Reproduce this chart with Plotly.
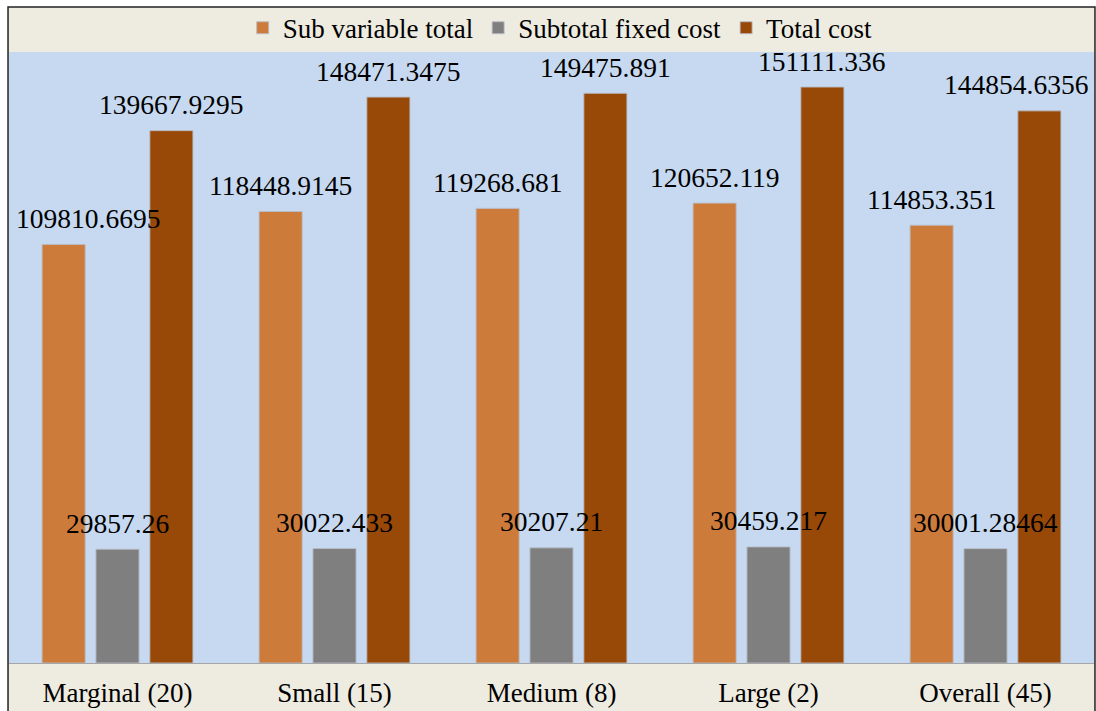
import plotly.graph_objects as go

categories = ["Marginal (20)", "Small (15)", "Medium (8)", "Large (2)", "Overall (45)"]
sub_variable_total = [109810.6695, 118448.9145, 119268.681, 120652.119, 114853.351]
subtotal_fixed_cost = [29857.26, 30022.433, 30207.21, 30459.217, 30001.28464]
total_cost = [139667.9295, 148471.3475, 149475.891, 151111.336, 144854.6356]
label_text_var = ["109810.6695", "118448.9145", "119268.681", "120652.119", "114853.351"]
label_text_fix = ["29857.26", "30022.433", "30207.21", "30459.217", "30001.28464"]
label_text_tot = ["139667.9295", "148471.3475", "149475.891", "151111.336", "144854.6356"]

series = [
    ("Sub variable total", sub_variable_total, label_text_var, "#CD7B3A"),
    ("Subtotal fixed cost", subtotal_fixed_cost, label_text_fix, "#7F7F7F"),
    ("Total cost", total_cost, label_text_tot, "#984807"),
]

FONT = "Liberation Serif"
BARGAP = 0.255
BARGROUPGAP = 0.2
# extra horizontal nudges of specific labels (series index, category index) -> px
nudges = {(0, 0): 24, (2, 4): -23}

fig = go.Figure()
for name, vals, _, color in series:
    fig.add_trace(go.Bar(
        name=name, x=categories, y=vals,
        marker=dict(color=color, line=dict(color="rgba(185,190,200,0.9)", width=1)),
    ))

slot = (1 - BARGAP) / len(series)
annotations = []
for si, (name, vals, texts, color) in enumerate(series):
    off = (si - (len(series) - 1) / 2) * slot
    for ci, (v, t) in enumerate(zip(vals, texts)):
        annotations.append(dict(
            x=ci + off, y=v, xref="x", yref="y", text=t, showarrow=False,
            yshift=26, xshift=nudges.get((si, ci), 0), yanchor="middle", xanchor="center",
            font=dict(family=FONT, size=27.5, color="#000000"),
        ))

shapes = [
    dict(type="rect", xref="paper", yref="paper", x0=-0.0009, x1=1.0009, y0=-0.09, y1=1.0737,
         fillcolor="#EEEBE0", line=dict(color="#222222", width=1.5), layer="below"),
    dict(type="rect", xref="paper", yref="paper", x0=0, x1=1, y0=0, y1=1,
         fillcolor="#C6D9F0", line=dict(width=0), layer="below"),
]

fig.update_layout(
    width=1096, height=711,
    margin=dict(l=9, r=2, t=52, b=48),
    paper_bgcolor="#FFFFFF", plot_bgcolor="rgba(0,0,0,0)",
    barmode="group", bargap=BARGAP, bargroupgap=BARGROUPGAP,
    font=dict(family=FONT, size=27, color="#000000"),
    legend=dict(orientation="h", x=0.508, xanchor="center", y=1.039, yanchor="middle",
                bgcolor="rgba(0,0,0,0)", font=dict(family=FONT, size=27, color="#000000"),
                itemwidth=30, tracegroupgap=0),
    shapes=shapes, annotations=annotations,
    showlegend=True,
)
fig.update_xaxes(showline=True, linecolor="#A6A6A6", linewidth=1, ticks="", showgrid=False,
                 tickfont=dict(family=FONT, size=27, color="#000000"), ticklabelstandoff=6)
fig.update_yaxes(range=[0, 160300], visible=False, showgrid=False, zeroline=False)

fig.write_html("out.html")
